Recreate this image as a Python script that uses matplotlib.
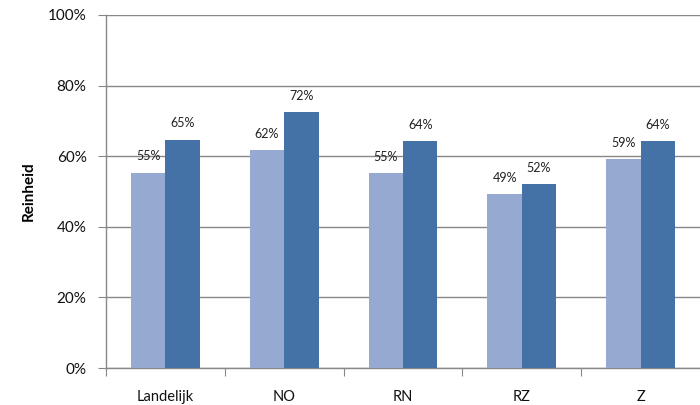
import matplotlib
matplotlib.use("Agg")
import matplotlib.pyplot as plt
import numpy as np

# data
categories = ["Landelijk", "NO", "RN", "RZ", "Z"]
serie_1 = [0.553, 0.617, 0.551, 0.492, 0.591]
serie_2 = [0.647, 0.724, 0.642, 0.521, 0.643]

light = "#95A9D1"
dark = "#4472A7"
grid_col = "#888888"

plt.rcParams["font.family"] = ["Lato", "DejaVu Sans"]

fig = plt.figure(figsize=(7, 4.05), dpi=100)
ax = fig.add_axes([106 / 700, 1 - 368 / 405, 1 - 106 / 700, (368 - 15) / 405])

x = np.arange(len(categories))
w = 0.29
b1 = ax.bar(x - w / 2, serie_1, w, color=light, zorder=3)
b2 = ax.bar(x + w / 2, serie_2, w, color=dark, zorder=3)

for bars, vals in [(b1, serie_1), (b2, serie_2)]:
    for rect, v in zip(bars, vals):
        ax.annotate(f"{v * 100:.0f}%",
                    (rect.get_x() + rect.get_width() / 2, v),
                    xytext=(0, 7.5), textcoords="offset points",
                    ha="center", va="bottom", fontsize=9, color="#222222")

ax.set_ylim(0, 1)
ax.set_xlim(-0.5, 4.5)
ax.set_yticks(np.arange(0, 1.01, 0.2))
ax.set_yticklabels([f"{int(round(t * 100))}%" for t in np.arange(0, 1.01, 0.2)])
ax.yaxis.grid(True, color=grid_col, linewidth=1, zorder=0)

# category boundaries as major ticks, names as minor ticks
ax.set_xticks(np.arange(-0.5, 4.5, 1))
ax.set_xticklabels([])
ax.set_xticks(x, minor=True)
ax.set_xticklabels(categories, minor=True)
ax.tick_params(axis="x", which="major", length=6, color=grid_col, direction="out")
ax.tick_params(axis="x", which="minor", length=0, pad=16, labelsize=10.5, labelcolor="#111111")
ax.tick_params(axis="y", length=6, color=grid_col, labelsize=11, pad=8, labelcolor="#111111")

for s in ["top", "right"]:
    ax.spines[s].set_visible(False)
for s in ["left", "bottom"]:
    ax.spines[s].set_color(grid_col)
    ax.spines[s].set_linewidth(1)

ax.set_ylabel("Reinheid", fontsize=11, fontweight="bold", labelpad=9)

fig.savefig("out.png", dpi=100)
